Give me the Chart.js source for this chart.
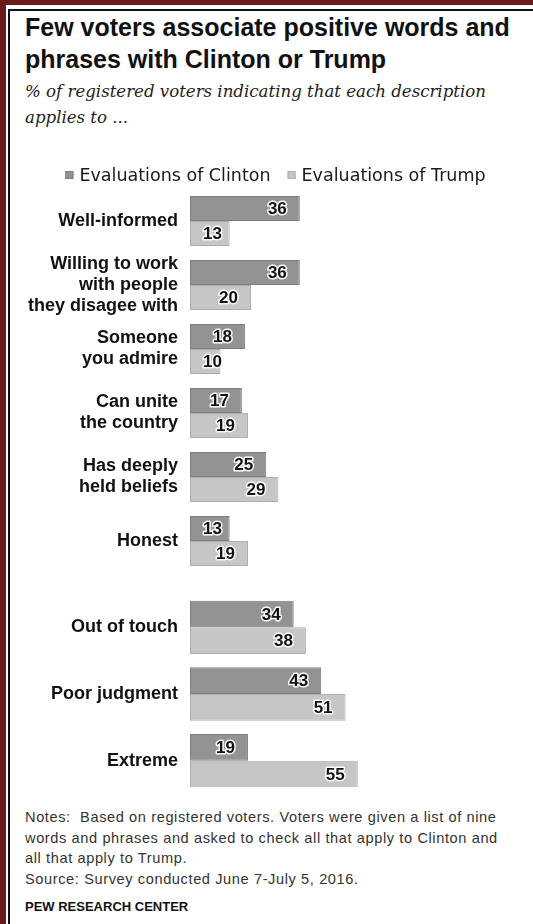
<!DOCTYPE html>
<html>
<head>
<meta charset="utf-8">
<title>Few voters associate positive words and phrases with Clinton or Trump</title>
<script src="https://cdn.jsdelivr.net/npm/chart.js@4.4.1/dist/chart.umd.min.js"></script>
<style>
  html, body { margin: 0; padding: 0; background: #fff; }
  #page { position: relative; width: 533px; height: 924px; overflow: hidden; background: #fff; }
  .rule { position: absolute; }
  .maroon-top { left: 0; top: 0; width: 533px; height: 5px; background: #6a1a1a; }
  .maroon-left { left: 0; top: 0; width: 6px; height: 924px; background: #6a1a1a; }
  .black-top { left: 8px; top: 9px; width: 525px; height: 2px; background: #111; }
  .black-left { left: 8px; top: 9px; width: 2px; height: 915px; background: #111; }
  h1 { position: absolute; left: 25px; top: 11px; margin: 0;
       font: bold 25px/32px "Liberation Sans", Arial, sans-serif; color: #111; white-space: nowrap; }
  .sub { position: absolute; left: 25px; top: 79px; margin: 0;
         font: italic 16.6px/26px "DejaVu Serif", serif; color: #222; white-space: nowrap; }
  .chartbox { position: absolute; left: 0; width: 533px; }
  #topBox { top: 160px; height: 413px; }
  #bottomBox { top: 594px; height: 200px; }
  .notes { position: absolute; left: 25px; top: 807px; margin: 0; white-space: pre;
           font: 14.6px/20.7px "Liberation Sans", Arial, sans-serif; letter-spacing: 0.6px; color: #333; }
  .brand { position: absolute; left: 25px; top: 899px; margin: 0;
           font: bold 13px/16px "Liberation Sans", Arial, sans-serif; color: #111; }
</style>
</head>
<body>
<div id="page">
  <div class="rule maroon-top"></div>
  <div class="rule maroon-left"></div>
  <div class="rule black-top"></div>
  <div class="rule black-left"></div>

  <h1>Few voters associate positive words and<br>phrases with Clinton or Trump</h1>
  <p class="sub">% of registered voters indicating that each description<br>applies to ...</p>

  <div class="chartbox" id="topBox"><canvas id="topChart"></canvas></div>
  <div class="chartbox" id="bottomBox"><canvas id="bottomChart"></canvas></div>

  <p class="notes">Notes:  Based on registered voters. Voters were given a list of nine
words and phrases and asked to check all that apply to Clinton and
all that apply to Trump.
Source: Survey conducted June 7-July 5, 2016.</p>
  <p class="brand">PEW RESEARCH CENTER</p>
</div>

<script>
// Series names
const seriesNames = ['Evaluations of Clinton', 'Evaluations of Trump'];

// Positive descriptions
const positiveLabels = [
  'Well-informed',
  ['Willing to work', 'with people', 'they disagee with'],
  ['Someone', 'you admire'],
  ['Can unite', 'the country'],
  ['Has deeply', 'held beliefs'],
  'Honest'
];
const positiveClinton = [36, 36, 18, 17, 25, 13];
const positiveTrump   = [13, 20, 10, 19, 29, 19];

// Negative descriptions
const negativeLabels  = ['Out of touch', 'Poor judgment', 'Extreme'];
const negativeClinton = [34, 43, 19];
const negativeTrump   = [38, 51, 55];

const CLINTON_FILL = '#939393', CLINTON_EDGE = '#7e7e7e';
const TRUMP_FILL = '#c6c6c6',   TRUMP_EDGE = '#adadad';

// Numbers drawn inside each bar, near its end, with a white halo
const valueLabels = {
  id: 'valueLabels',
  afterDatasetsDraw(chart) {
    const ctx = chart.ctx;
    ctx.save();
    ctx.font = 'bold 17px "Liberation Sans", Arial, sans-serif';
    ctx.textBaseline = 'middle';
    ctx.textAlign = 'left';
    ctx.lineJoin = 'round';
    chart.data.datasets.forEach((ds, i) => {
      chart.getDatasetMeta(i).data.forEach((bar, j) => {
        const txt = String(ds.data[j]);
        const w = ctx.measureText(txt).width;
        let x = bar.x - 13 - w;
        const minX = bar.base + 13;
        if (x < minX) x = minX;
        ctx.strokeStyle = 'rgba(255,255,255,0.95)';
        ctx.lineWidth = 3;
        ctx.strokeText(txt, x, bar.y + 1);
        ctx.fillStyle = '#111';
        ctx.fillText(txt, x, bar.y + 1);
      });
    });
    ctx.restore();
  }
};

// Compact legend: small square swatch, tight gap, drawn above the plot
const compactLegend = {
  id: 'compactLegend',
  afterDraw(chart, args, opts) {
    if (!opts.show) return;
    const ctx = chart.ctx;
    const box = 8, gap = 6, itemGap = 17;
    ctx.save();
    ctx.font = '17.5px "DejaVu Sans", sans-serif';
    ctx.textBaseline = 'middle';
    ctx.textAlign = 'left';
    const items = chart.data.datasets.map(ds => ({
      text: ds.label, fill: ds.backgroundColor, edge: ds.borderColor,
      w: box + gap + ctx.measureText(ds.label).width
    }));
    const total = items.reduce((s, it) => s + it.w, 0) + itemGap * (items.length - 1);
    let x = (chart.width - total) / 2 + opts.shift;
    const y = opts.y;
    items.forEach(it => {
      ctx.fillStyle = it.fill;
      ctx.fillRect(x, y - box / 2, box, box);
      ctx.strokeStyle = it.edge;
      ctx.lineWidth = 1;
      ctx.strokeRect(x + 0.5, y - box / 2 + 0.5, box - 1, box - 1);
      ctx.fillStyle = '#1a1a1a';
      ctx.fillText(it.text, x + box + gap, y + 1);
      x += it.w + itemGap;
    });
    ctx.restore();
  }
};

function makeChart(canvasId, labels, clinton, trump, catPct, withLegend) {
  return new Chart(document.getElementById(canvasId), {
    type: 'bar',
    data: {
      labels: labels,
      datasets: [
        { label: seriesNames[0], data: clinton, backgroundColor: CLINTON_FILL,
          borderColor: CLINTON_EDGE, borderWidth: 1, borderSkipped: false },
        { label: seriesNames[1], data: trump, backgroundColor: TRUMP_FILL,
          borderColor: TRUMP_EDGE, borderWidth: 1, borderSkipped: false }
      ]
    },
    options: {
      indexAxis: 'y',
      responsive: true,
      maintainAspectRatio: false,
      animation: false,
      datasets: { bar: { categoryPercentage: catPct, barPercentage: 1.0 } },
      layout: { padding: { left: 0, right: 38, top: withLegend ? 29 : 0, bottom: 0 } },
      scales: {
        x: { min: 0, max: 100, display: false, grid: { display: false } },
        y: {
          grid: { display: false, drawTicks: false },
          border: { display: false },
          afterFit(scale) {
            scale.width = 190;
            scale.paddingTop = 0;
            scale.paddingBottom = 0;
          },
          ticks: {
            autoSkip: false,
            padding: 12,
            color: '#111',
            font: { family: '"Liberation Sans", Arial, sans-serif', size: 18, weight: 'bold', lineHeight: 1.17 }
          }
        }
      },
      plugins: {
        tooltip: { enabled: false },
        legend: { display: false },
        compactLegend: { show: withLegend, y: 15, shift: 9 }
      }
    },
    plugins: [valueLabels, compactLegend]
  });
}

makeChart('topChart', positiveLabels, positiveClinton, positiveTrump, 0.78, true);
makeChart('bottomChart', negativeLabels, negativeClinton, negativeTrump, 0.8, false);
</script>
</body>
</html>
